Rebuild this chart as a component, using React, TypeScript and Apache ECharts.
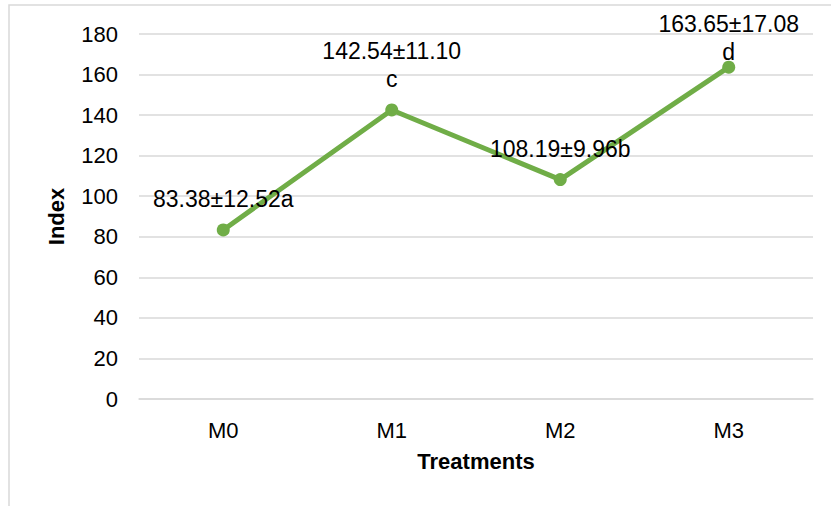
import React, { useEffect, useRef } from "react";
import * as echarts from "echarts";

const categories = ["M0", "M1", "M2", "M3"];
const values = [83.38, 142.54, 108.19, 163.65];
const labelTexts = ["83.38±12.52a", "142.54±11.10\nc", "108.19±9.96b", "163.65±17.08\nd"];
const yTicks = { min: 0, max: 180, interval: 20 };

const FONT = "Liberation Sans, Arial, sans-serif";

export default function App() {
  const ref = useRef<HTMLDivElement>(null);
  useEffect(() => {
    if (!ref.current) return;
    const chart = echarts.init(ref.current, undefined, { renderer: "svg" });
    chart.setOption({
      animation: false,
      backgroundColor: "#ffffff",
      textStyle: { fontFamily: FONT },
      graphic: [
        {
          type: "rect",
          shape: { x: 9, y: 5, width: 840, height: 540 },
          style: { fill: "none", stroke: "#d9d9d9", lineWidth: 1.5 },
          silent: true,
        },
      ],
      grid: { left: 139, right: 18, top: 34, bottom: 107 },
      xAxis: {
        type: "category",
        data: categories,
        boundaryGap: true,
        axisLine: { show: true, lineStyle: { color: "#d9d9d9", width: 1.5 } },
        axisTick: { show: false },
        axisLabel: { color: "#000", fontSize: 22, fontFamily: FONT, margin: 20 },
        name: "Treatments",
        nameLocation: "middle",
        nameGap: 51,
        nameTextStyle: { color: "#000", fontSize: 22, fontWeight: "bold", fontFamily: FONT },
      },
      yAxis: {
        type: "value",
        min: yTicks.min,
        max: yTicks.max,
        interval: yTicks.interval,
        axisLine: { show: false },
        axisTick: { show: false },
        splitLine: { show: true, lineStyle: { color: "#d9d9d9", width: 1.5 } },
        axisLabel: { color: "#000", fontSize: 22, fontFamily: FONT, margin: 21 },
        name: "Index",
        nameLocation: "middle",
        nameGap: 72,
        nameRotate: 90,
        nameTextStyle: { color: "#000", fontSize: 22, fontWeight: "bold", fontFamily: FONT },
      },
      series: [
        {
          type: "line",
          data: values.map((v, i) => ({
            value: v,
            label: i === 3 ? { formatter: labelTexts[i], offset: [0, 15] } : { formatter: labelTexts[i] },
          })),
          lineStyle: { color: "#70ad47", width: 5 },
          itemStyle: { color: "#70ad47" },
          symbol: "circle",
          symbolSize: 13,
          label: {
            show: true,
            position: "top",
            distance: 10,
            color: "#000",
            fontSize: 23,
            lineHeight: 28,
            fontFamily: FONT,
            align: "center",
          },
        },
      ],
    });
    return () => chart.dispose();
  }, []);
  return (
    <div
      ref={ref}
      style={{ position: "fixed", left: 0, top: 0, width: 831, height: 506 }}
    />
  );
}
